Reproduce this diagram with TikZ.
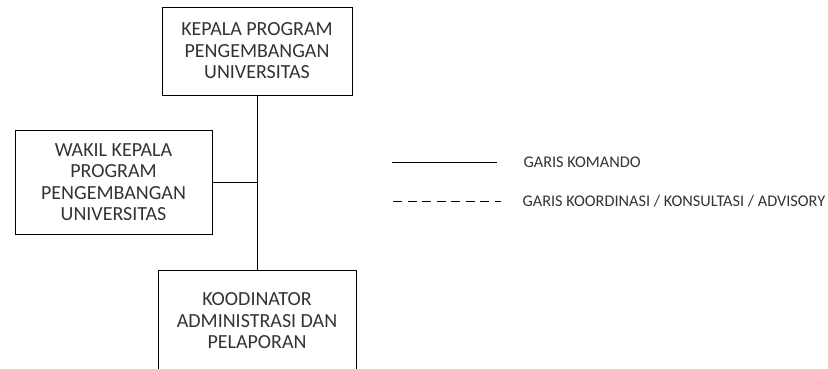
\documentclass[tikz,border=0pt]{standalone}
\usepackage{fontspec}
\setmainfont{Carlito}
\usepackage{tikz}

\begin{document}
\begin{tikzpicture}[x=1pt,y=-1pt]
        \tikzset{jabatan/.style = {shape=rectangle,draw,line width=0.8pt,align=center,text=black!80,font=\fontsize{20}{21.5}\selectfont}}
        \tikzset{komando/.style = {line width=0.8pt}}
        \tikzset{koordinasi/.style = {line width=0.8pt,dash pattern=on 9pt off 5.5pt}}
        \tikzset{keterangan/.style = {anchor=west,text=black!80,font=\fontsize{16.3}{18}\selectfont}}
        \useasboundingbox (0,0) rectangle (828,369);
        \clip (0,0) rectangle (828,369);
        % jabatan
        \node[jabatan, minimum width=190pt, minimum height=88pt] (kepala) at (257,51) {KEPALA PROGRAM\\PENGEMBANGAN\\UNIVERSITAS};
        \node[jabatan, minimum width=197pt, minimum height=104pt] (wakil) at (113.5,182) {WAKIL KEPALA\\PROGRAM\\PENGEMBANGAN\\UNIVERSITAS};
        \node[jabatan, minimum width=198pt, minimum height=102pt, text depth=0pt] (koord) at (257,321) {KOODINATOR\\ADMINISTRASI DAN\\PELAPORAN};
        \coordinate (cabang) at (kepala.south |- wakil.east);

        %garis
        \draw[komando] (kepala) -- (koord);
        \draw[komando] (wakil) -- (cabang);

        % keterangan
        \coordinate (k1a) at (392,162);
        \coordinate (k1b) at (497,162);
        \coordinate (k2a) at (393,201);
        \coordinate (k2b) at (501,201);
        \draw[komando] (k1a) -- (k1b);
        \draw[koordinasi] (k2a) -- (k2b);
        \node[keterangan] (ket1) at (520,162) {GARIS KOMANDO};
        \node[keterangan] (ket2) at (519,201) {GARIS KOORDINASI / KONSULTASI / ADVISORY};
    \end{tikzpicture}
\end{document}
